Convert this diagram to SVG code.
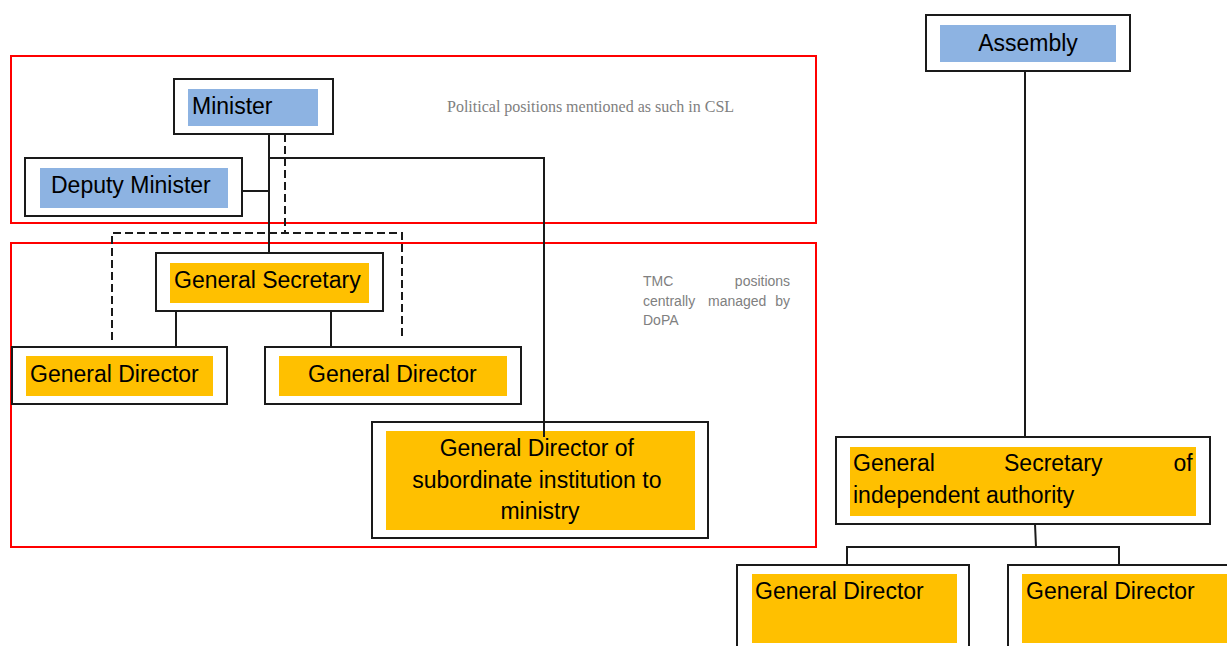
<svg xmlns="http://www.w3.org/2000/svg" width="1227" height="646" viewBox="0 0 1227 646">
  <style>
    .frame { fill: none; stroke: #ff0000; stroke-width: 2; }
    .box { fill: #ffffff; stroke: #1a1a1a; stroke-width: 2; }
    .blue { fill: #8db3e2; }
    .orange { fill: #ffc000; }
    .lbl { font-family: "Liberation Sans", Arial, sans-serif; font-size: 23px; fill: #000000; }
    .note { font-family: "Liberation Sans", Arial, sans-serif; font-size: 14px; fill: #808080; }
    .serif { font-family: "Liberation Serif", "Times New Roman", serif; font-size: 16px; fill: #808080; }
    .line { fill: none; stroke: #1a1a1a; stroke-width: 2; }
    .dash { fill: none; stroke: #1a1a1a; stroke-width: 2; stroke-dasharray: 8 4; }
  </style>

  <!-- group outlines -->
  <g id="frames">
    <rect class="frame" x="11" y="56" width="805" height="167"/>
    <rect class="frame" x="11" y="243" width="805" height="304"/>
    <text class="serif" x="447" y="112">Political positions mentioned as such in CSL</text>
    <text class="note">
      <tspan x="643" y="286">TMC</tspan>
      <tspan x="794" y="286" text-anchor="end">positions</tspan>
      <tspan x="643" y="306">centrally</tspan>
      <tspan x="708" y="306">managed</tspan>
      <tspan x="794" y="306" text-anchor="end">by</tspan>
      <tspan x="643" y="325">DoPA</tspan>
    </text>
  </g>

  <g id="minister">
    <rect class="box" x="174" y="79" width="159" height="55"/>
    <rect class="blue" x="188" y="89" width="130" height="37"/>
    <text class="lbl" x="192" y="114">Minister</text>
  </g>

  <g id="deputy-minister">
    <rect class="box" x="25" y="158" width="217" height="58"/>
    <rect class="blue" x="40" y="168" width="188" height="40"/>
    <text class="lbl" x="51" y="193">Deputy Minister</text>
  </g>

  <g id="general-secretary">
    <rect class="box" x="156" y="253" width="227" height="58"/>
    <rect class="orange" x="170" y="263" width="199" height="40"/>
    <text class="lbl" x="174" y="288">General Secretary</text>
  </g>

  <g id="general-director-1">
    <rect class="box" x="12" y="347" width="215" height="57"/>
    <rect class="orange" x="26" y="356" width="187" height="40"/>
    <text class="lbl" x="30" y="382">General Director</text>
  </g>

  <g id="general-director-2">
    <rect class="box" x="265" y="347" width="256" height="57"/>
    <rect class="orange" x="279" y="356" width="228" height="40"/>
    <text class="lbl" x="308" y="382">General Director</text>
  </g>

  <g id="subordinate-director">
    <rect class="box" x="372" y="422" width="336" height="116"/>
    <rect class="orange" x="386" y="431" width="309" height="99"/>
    <text class="lbl" text-anchor="middle">
      <tspan x="540" y="456">General Director of</tspan>
      <tspan x="540" y="488">subordinate institution to</tspan>
      <tspan x="540" y="519">ministry</tspan>
    </text>
  </g>

  <g id="assembly">
    <rect class="box" x="926" y="15" width="204" height="56"/>
    <rect class="blue" x="940" y="25" width="176" height="37"/>
    <text class="lbl" x="1028" y="51" text-anchor="middle">Assembly</text>
  </g>

  <g id="secretary-independent">
    <rect class="box" x="836" y="437" width="374" height="87"/>
    <rect class="orange" x="850" y="447" width="346" height="69"/>
    <text class="lbl">
      <tspan x="853" y="471">General</tspan>
      <tspan x="1004" y="471">Secretary</tspan>
      <tspan x="1199" y="471" text-anchor="end">of</tspan>
      <tspan x="853" y="503">independent authority</tspan>
    </text>
  </g>

  <g id="independent-director-1">
    <rect class="box" x="737" y="565" width="232" height="100"/>
    <rect class="orange" x="752" y="574" width="205" height="69"/>
    <text class="lbl" x="755" y="599">General Director</text>
  </g>

  <g id="independent-director-2">
    <rect class="box" x="1008" y="565" width="240" height="100"/>
    <rect class="orange" x="1022" y="574" width="220" height="69"/>
    <text class="lbl" x="1026" y="599">General Director</text>
  </g>

  <!-- reporting lines -->
  <g id="connectors">
    <path class="line" d="M269 134 V253"/>
    <path class="line" d="M242 191 H269"/>
    <path class="line" d="M269 158 H544 V437"/>
    <path class="dash" d="M285 134 V233 M112 340 V233 H402 V340"/>
    <path class="line" d="M176 311 V347 M331 311 V347"/>
    <path class="line" d="M1025 71 V437"/>
    <path class="line" d="M1035 524 L1036 547 M847 565 V547 H1119 V565"/>
  </g>
</svg>
